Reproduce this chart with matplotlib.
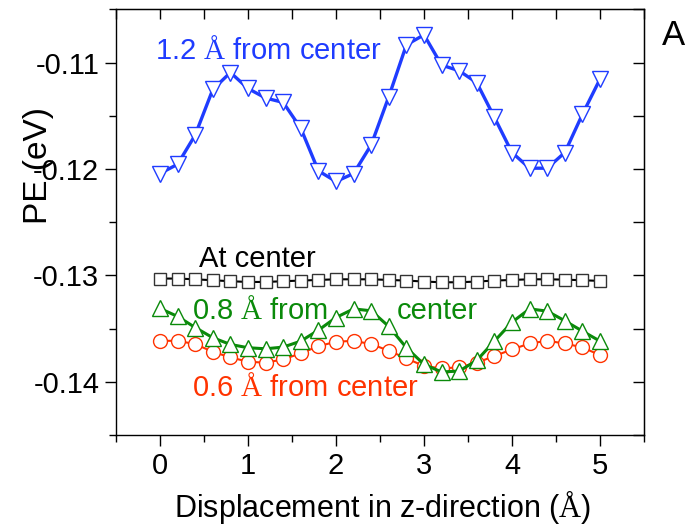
import numpy as np
import matplotlib
matplotlib.use("Agg")
import matplotlib.pyplot as plt

plt.rcParams["font.family"] = ["Liberation Sans", "DejaVu Sans"]
plt.rcParams["mathtext.fontset"] = "custom"
plt.rcParams["mathtext.rm"] = "Liberation Serif"

# displacement along z (Angstrom), 0.2 step
z = np.round(np.arange(0, 5.01, 0.2), 2)

pe_12 = [-0.12043, -0.11956, -0.11681, -0.11253, -0.11094, -0.11244, -0.11334,
         -0.11375, -0.11618, -0.12018, -0.12118, -0.12043, -0.11774, -0.11321,
         -0.10834, -0.10740, -0.11024, -0.11078, -0.11190, -0.11515, -0.11846,
         -0.11993, -0.11993, -0.11846, -0.11487, -0.11156]
pe_center = [-0.13030, -0.13030, -0.13037, -0.13046, -0.13055, -0.13062, -0.13062,
             -0.13055, -0.13049, -0.13043, -0.13037, -0.13037, -0.13037, -0.13043,
             -0.13049, -0.13058, -0.13065, -0.13065, -0.13058, -0.13049, -0.13043,
             -0.13037, -0.13037, -0.13040, -0.13046, -0.13052]
pe_08 = [-0.13311, -0.13386, -0.13490, -0.13586, -0.13649, -0.13680, -0.13690,
         -0.13674, -0.13618, -0.13515, -0.13396, -0.13315, -0.13333, -0.13480,
         -0.13680, -0.13836, -0.13908, -0.13899, -0.13799, -0.13618, -0.13440,
         -0.13315, -0.13336, -0.13427, -0.13524, -0.13618]
pe_06 = [-0.13615, -0.13615, -0.13646, -0.13718, -0.13771, -0.13811, -0.13821,
         -0.13789, -0.13733, -0.13665, -0.13624, -0.13615, -0.13646, -0.13708,
         -0.13780, -0.13852, -0.13874, -0.13864, -0.13821, -0.13758, -0.13696,
         -0.13640, -0.13615, -0.13640, -0.13677, -0.13749]

BLUE = "#1f3cff"
GREEN = "#0a8a0a"
RED = "#ff3300"
AA = r"$\mathrm{\AA}$"
FS = 21

fig = plt.figure(figsize=(6.93, 5.27), dpi=100)
ax = fig.add_axes([116 / 693, 92 / 527, 528 / 693, 425.7 / 527])

ax.plot(z, pe_06, color=RED, lw=1.5, marker="o", ms=10, mfc="white",
        mec=RED, mew=1.0, zorder=3)
ax.plot(z, pe_08, color=GREEN, lw=2.2, marker="^", ms=11, mfc="white",
        mec=GREEN, mew=1.0, zorder=4)
ax.plot(z, pe_center, color="black", lw=1.5, marker="s", ms=8, mfc="white",
        mec="#333333", mew=1.0, zorder=5)
ax.plot(z, pe_12, color=BLUE, lw=2.4, marker="v", ms=11, mfc="white",
        mec=BLUE, mew=1.0, zorder=6)

ax.text(-0.057, -0.10966, f"1.2 {AA} from center", color=BLUE, fontsize=FS)
ax.text(0.443, -0.12921, "At center", color="black", fontsize=FS)
ax.text(0.364, -0.13411, f"0.8 {AA} from", color=GREEN, fontsize=FS)
ax.text(2.693, -0.13411, "center", color=GREEN, fontsize=FS)
ax.text(0.364, -0.14133, f"0.6 {AA} from center", color=RED, fontsize=FS)

ax.set_xlim(-0.5, 5.5)
ax.set_ylim(-0.145, -0.105)
ax.set_xticks(range(6))
ax.set_xticks(np.arange(-0.5, 5.6, 0.5), minor=True)
ax.set_yticks([-0.14, -0.13, -0.12, -0.11])
ax.set_yticks(np.arange(-0.145, -0.1049, 0.005), minor=True)
ax.set_yticklabels(["-0.14", "-0.13", "-0.12", "-0.11"])
ax.tick_params(which="major", direction="out", length=8, width=1.0,
               labelsize=FS, pad=4)
ax.tick_params(which="minor", direction="out", length=5, width=1.0)
for s in ax.spines.values():
    s.set_linewidth(1.0)

# inward ticks on the top and right frame
top = ax.secondary_xaxis("top")
top.set_xticks(np.arange(-0.5, 5.6, 0.5))
top.tick_params(direction="in", length=7, width=1.0, labeltop=False)
right = ax.secondary_yaxis("right")
right.set_yticks(np.arange(-0.145, -0.1049, 0.005))
right.tick_params(direction="in", length=8, width=1.0, labelright=False)

fig.text(383 / 693, 1 - 516.7 / 527, f"Displacement in z-direction ({AA})",
         fontsize=22, ha="center", va="baseline")
fig.text(38 / 693, 1 - 166 / 527, "PE (eV)", fontsize=24, rotation=90,
         ha="center", va="center")
fig.text(662 / 693, 1 - 45 / 527, "A", fontsize=25, ha="left", va="baseline")

fig.savefig("out.png", dpi=100)
